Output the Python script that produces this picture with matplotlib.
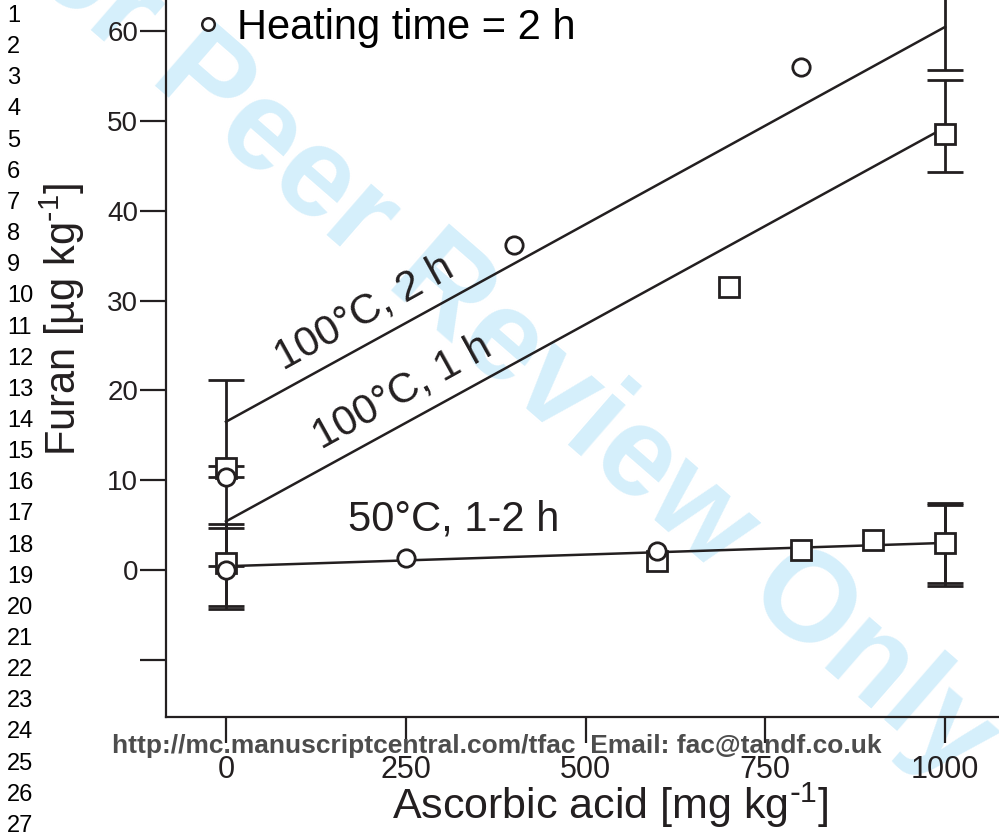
import matplotlib
matplotlib.use('Agg')
import matplotlib.pyplot as plt
from matplotlib.lines import Line2D

plt.rcParams['font.family'] = ['Liberation Sans', 'DejaVu Sans']
plt.rcParams['mathtext.default'] = 'regular'

INK = '#231f20'

# 1 h heating (squares)
sq_x = [0, 0, 600, 700, 800, 900, 1000, 1000]
sq_y = [11.4, 0.8, 1.0, 31.5, 2.2, 3.3, 48.6, 3.0]

# 2 h heating (circles)
ci_x = [0, 0, 250, 400, 600, 800]
ci_y = [10.3, 0.0, 1.3, 36.2, 2.1, 56.0]

# fitted lines, values at 0 and 1000 mg/kg
fit_x = [0, 1000]
fit_2h = [16.5, 60.5]
fit_1h = [5.4, 49.3]
fit_50 = [0.4, 3.0]

# error bars at the ends of the fitted lines
err_x = [0, 0, 0, 0, 1000, 1000, 1000, 1000]
err_y = [16.4, 5.4, 0.55, 0.15, 60.5, 49.45, 3.0, 2.7]
err_e = [4.8, 5.0, 4.55, 4.5, 4.8, 5.15, 4.5, 4.5]

x_ticks = [0, 250, 500, 750, 1000]
y_ticks = [-10, 0, 10, 20, 30, 40, 50, 60]
y_ticklabels = ['', '0', '10', '20', '30', '40', '50', '60']

fig = plt.figure(figsize=(9.99, 8.39), dpi=100)

# page watermark behind everything
fig.text(0.4835, 0.610, 'For Peer Review Only', rotation=-41, fontsize=92,
         fontweight='bold', color='#d5effb', ha='center', va='center', zorder=-5)

# manuscript line numbers
for i in range(1, 28):
    fig.text(7 / 999, 1 - (16 + 31.15 * (i - 1)) / 839, str(i), ha='left',
             va='center', fontsize=17, color='black')

ax = fig.add_axes([166 / 999, 122 / 839, 833 / 999, 717 / 839])
ax.patch.set_alpha(0)

ax.errorbar(err_x, err_y, yerr=err_e, fmt='none', ecolor=INK, elinewidth=2.0,
            capsize=13, capthick=2.0, zorder=2)

ax.plot(fit_x, fit_2h, color=INK, lw=1.8, zorder=3)
ax.plot(fit_x, fit_1h, color=INK, lw=1.8, zorder=3)
ax.plot(fit_x, fit_50, color=INK, lw=1.8, zorder=3)

ax.plot(sq_x, sq_y, 's', ms=14, mfc='white', mec=INK, mew=2.0, zorder=4)
ax.plot(ci_x, ci_y, 'o', ms=12.5, mfc='white', mec=INK, mew=2.0, zorder=5)

ax.text(192, 28.6, '100°C, 2 h', rotation=29, rotation_mode='anchor',
        ha='center', va='center', fontsize=30, color=INK)
ax.text(245, 19.8, '100°C, 1 h', rotation=29, rotation_mode='anchor',
        ha='center', va='center', fontsize=30, color=INK)
ax.text(316, 5.6, '50°C, 1-2 h', ha='center', va='center', fontsize=30, color=INK)

handle = Line2D([], [], ls='none', marker='o', ms=9, mfc='white', mec=INK, mew=1.8)
ax.legend([handle], ['Heating time = 2 h'], loc='center left',
          bbox_to_anchor=(197.6 / 999, 1 - 28 / 839), bbox_transform=fig.transFigure,
          frameon=False, fontsize=30, handlelength=0.5, handletextpad=0.44,
          borderpad=0, borderaxespad=0)

ax.set_xlim(-83.4, 1075)
ax.set_ylim(-16.4, 63.5)
ax.set_xticks(x_ticks)
ax.set_yticks(y_ticks)
ax.set_yticklabels(y_ticklabels)

for side in ['top', 'right']:
    ax.spines[side].set_visible(False)
for side in ['left', 'bottom']:
    ax.spines[side].set_linewidth(1.6)
    ax.spines[side].set_color(INK)

ax.tick_params(axis='both', direction='out', length=19, width=1.6, color=INK,
               labelcolor=INK)
ax.tick_params(axis='y', labelsize=20, pad=1)
ax.tick_params(axis='x', labelsize=22, pad=8)

ax.set_xlabel(r'Ascorbic acid [mg kg$^{\text{-}1}$]', fontsize=31, color=INK, va='center')
ax.xaxis.set_label_coords(0.533, -0.123)
ax.set_ylabel(r'Furan [µg kg$^{\text{-}1}$]', fontsize=30, color=INK, va='center')
ax.yaxis.set_label_coords(-0.125, 0.554)

fig.text(497 / 999, 1 - 746 / 839,
         'http://mc.manuscriptcentral.com/tfac  Email: fac@tandf.co.uk',
         ha='center', va='center', fontsize=19, fontweight='bold', color='#4d4d4d',
         zorder=10)

fig.savefig('out.png', dpi=100)
